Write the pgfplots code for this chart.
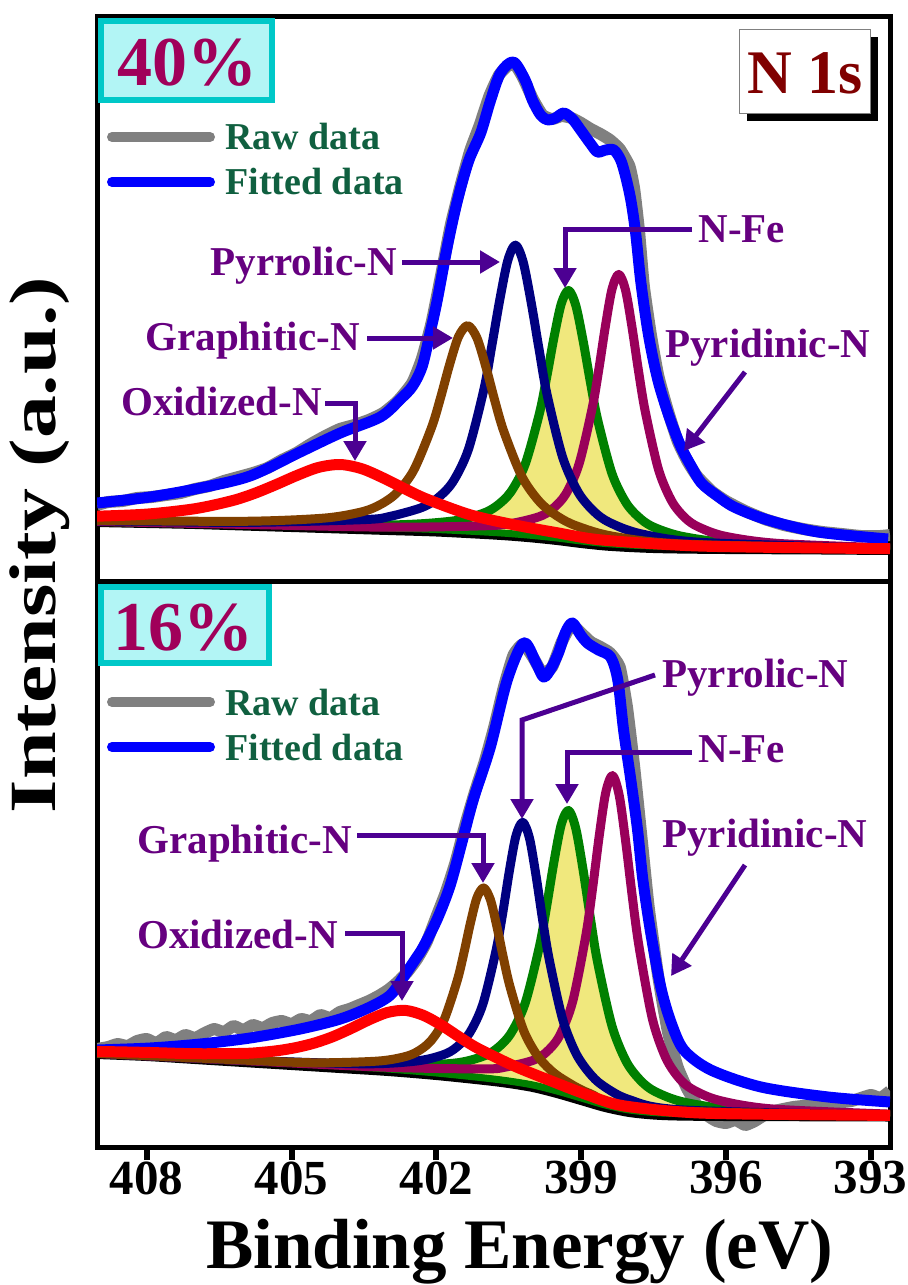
\documentclass[border=0pt]{standalone}
\usepackage{pgfplots}
\pgfplotsset{compat=1.18}
\usepackage{pgfplotstable}
\usepackage{graphicx}
\usepgfplotslibrary{fillbetween}
\usetikzlibrary{arrows.meta}
\usepackage{fontspec}
\setmainfont{Liberation Serif}

\definecolor{rawgray}{RGB}{128,128,128}
\definecolor{fitblue}{RGB}{0,0,255}
\definecolor{oxred}{RGB}{255,0,0}
\definecolor{grbrown}{RGB}{128,64,0}
\definecolor{pyrnavy}{RGB}{0,0,128}
\definecolor{fegreen}{RGB}{0,128,0}
\definecolor{pydwine}{RGB}{153,0,90}
\definecolor{fefill}{RGB}{240,232,125}
\definecolor{pctcol}{RGB}{160,0,90}
\definecolor{boxfill}{RGB}{178,245,245}
\definecolor{boxedge}{RGB}{0,200,200}
\definecolor{nscol}{RGB}{128,0,0}
\definecolor{legcol}{RGB}{16,96,64}
\definecolor{labcol}{RGB}{102,0,128}
\definecolor{arrcol}{RGB}{76,0,146}

% ---------------- 40% sample ----------------
\pgfplotstableread{
E I
409.03 76
408.8 79
408.5 80
408.2 83
407.9 84
407.6 86
407.3 88
407.0 92
406.7 95
406.4 100
406.1 104
405.8 108
405.5 113
405.2 121
404.9 128
404.6 137
404.3 145
404.0 152
403.7 156
403.4 161
403.1 168
402.8 180
402.5 198
402.3 222
402.1 258
401.9 306
401.7 356
401.5 395
401.3 430
401.1 456
400.9 485
400.7 506
400.5 516
400.35 515
400.2 503
400.0 482
399.8 466
399.6 462
399.4 465
399.2 463
399.0 458
398.8 452
398.6 447
398.4 441
398.2 432
398.0 415
397.9 392
397.8 350
397.7 295
397.55 245
397.4 205
397.2 170
397.0 140
396.8 120
396.6 105
396.3 90
396.0 80
395.6 70
395.2 62
394.8 56
394.4 52
394.0 49
393.6 47
393.2 45
392.8 45
392.6 46
}\rawTop

\pgfplotstableread{
E I
409.03 78
407.93 84
406.89 93
405.86 105
404.82 129
403.99 148
403.16 164
402.74 182
402.49 195
402.29 215
402.12 250
401.98 281
401.77 335
401.56 381
401.33 420
401.08 448
400.88 480
400.67 508
400.40 519
400.15 500
400.01 481
399.84 466
399.69 461
399.53 463
399.36 468
399.18 462
399.01 451
398.80 437
398.66 429
398.49 431
398.32 431
398.18 421
398.08 405
397.97 381
397.87 348
397.76 298
397.60 245
397.41 201
397.18 165
396.93 134
396.72 115
396.51 98
396.20 86
395.83 74
395.13 61
394.09 49
392.64 42
}\fitTop

\pgfplotstableread{
E I
409.03 59
408 58
407 57
406 55.5
405 54
404 52.5
403 51
402 49.5
401 47
400.5 45.5
400 43.5
399.5 41
399 38
398.5 35.5
398 34
397.5 33
397 32.5
396 32
394 31.5
392.6 31
}\baseTop

\pgfplotstableread{
E I
409.03 59.8
406 57.1
403 56
401.66 60
401.06 67.2
400.76 74.7
400.46 88.8
400.16 116.6
399.86 168.3
399.71 204.6
399.56 244.1
399.41 277.4
399.26 290.6
399.11 275.6
398.96 240.6
398.81 199.6
398.66 161.8
398.36 107.4
398.06 77.6
397.76 61.9
397.46 53.1
396.86 44.2
395.66 37.3
392.6 32.6
}\nfeTop

\pgfplotstableread{
E I
409.03 59.6
406 56.6
403 53.8
401 55.2
400.42 57.8
399.87 64.3
399.595 72
399.32 86.7
399.045 116.6
398.77 173
398.63 212.5
398.495 255.3
398.36 291.8
398.22 306.6
398.08 291
397.945 253.7
397.81 209.9
397.67 169.3
397.395 111.3
397.12 79.7
396.845 63.1
396.57 54.1
396.02 44.8
394.92 37.6
392.6 33.1
}\pydTop

\pgfplotstableread{
E I
409.03 60.3
406 58.6
403.5 61.4
402.96 64.6
402.31 73.3
401.985 82.4
401.66 98.9
401.335 131.6
401.01 192.5
400.85 235.2
400.685 281.2
400.52 320.3
400.36 335.9
400.2 319
400.035 278.7
399.87 231.5
399.71 187.5
399.385 124.1
399.06 88.7
398.735 69.6
398.41 58.5
397.76 47.2
396.46 38.5
392.6 32.6
}\pyrTop

\pgfplotstableread{
E I
409.03 60.6
406 59.7
404.35 62.8
403.6 68.5
403.225 74.8
402.85 86.8
402.475 110.1
402.1 153.3
401.91 183.6
401.725 216.4
401.54 244.3
401.35 255.4
401.16 243.3
400.975 214.5
400.79 180.7
400.6 149.4
400.225 104.3
399.85 78.7
399.475 64.3
399.1 55.2
398.35 44.8
396.85 36.9
392.6 32.2
}\graTop

\pgfplotstableread{
E I
409.03 64.8
408 66.9
407 72.3
406.24 80.2
405.79 87.2
405.34 96
404.89 105.5
404.44 113.6
403.99 116.5
403.54 112.2
403.09 102.8
402.64 91.9
402.19 81.8
401.29 66.1
400.39 56.2
399.49 48.2
398.59 41.1
396.79 35.4
395 33.6
392.6 32.3
}\oxiTop

% ---------------- 16% sample ----------------
\pgfplotstableread{
E I
409.03 98
408.8 100
408.6 103
408.4 101
408.2 106
408.0 108
407.8 104
407.6 110
407.4 107
407.2 112
407.0 109
406.8 114
406.6 118
406.4 115
406.2 121
406.0 117
405.8 122
405.6 119
405.4 124
405.2 126
405.0 123
404.8 128
404.6 126
404.4 132
404.2 129
404.0 135
403.8 138
403.6 142
403.4 146
403.2 151
403.0 157
402.8 165
402.6 175
402.4 188
402.2 205
402.0 230
401.8 255
401.6 285
401.4 322
401.2 355
401.0 385
400.8 420
400.6 460
400.4 492
400.2 503
400.0 490
399.8 474
399.6 480
399.4 505
399.2 522
399.0 514
398.8 505
398.6 500
398.4 494
398.2 480
398.05 440
397.9 380
397.75 310
397.6 240
397.4 170
397.2 115
397.0 80
396.8 58
396.6 42
396.4 32
396.2 26
396.0 24
395.8 27
395.6 22
395.4 26
395.2 32
395.0 36
394.6 40
394.2 42
393.8 44
393.4 46
393.0 52
392.8 49
392.6 56
}\rawBot

\pgfplotstableread{
E I
409.03 97
407.93 99
406.89 103
405.86 109
404.82 118
403.99 128
403.37 140
402.95 152
402.68 170
402.43 188
402.27 200
401.98 228
401.71 262
401.44 310
401.23 348
400.88 400
400.53 467
400.19 504
399.94 485
399.78 470
399.63 478
399.47 494
399.32 515
399.18 524
399.01 512
398.87 504
398.64 497
398.39 490
398.24 467
398.12 417
397.97 367
397.83 317
397.72 267
397.56 215
397.35 160
397.14 125
396.87 97
396.31 77
395.27 60
393.88 50
392.6 45
}\fitBot

\pgfplotstableread{
E I
409.03 93
408 91
407 88
406 85
405 82
404 79
403 76
402 72
401 67
400.5 64
400 60
399.5 54
399 47
398.5 40
398 35
397.5 32.5
397 31.5
396 31
394 30.7
392.6 30.5
}\baseBot

\pgfplotstableread{
E I
409.03 93.9
406 86.8
403 81.7
401.66 83.7
401.06 90.2
400.76 97.9
400.46 113.2
400.16 143.7
399.86 201.3
399.71 241.8
399.56 285.8
399.41 322.7
399.26 336.6
399.11 318.5
398.96 277.5
398.81 229.6
398.66 185.2
398.36 121
398.06 85.1
397.76 66.1
397.46 55.3
396.86 44.8
395.66 37.1
392.6 32.4
}\nfeBot

\pgfplotstableread{
E I
409.03 93.7
406 86.4
403 79.7
401 78.1
400.55 80.1
400 86.6
399.725 94.6
399.45 110.9
399.175 145.4
398.9 212.1
398.76 259.4
398.625 310.9
398.49 354.3
398.35 371.5
398.21 351.5
398.075 304.9
397.94 250.6
397.8 200.5
397.525 128.5
397.25 89.6
396.975 69.1
396.7 57.9
396.15 46.8
395.05 38.1
392.6 32.9
}\pydBot

\pgfplotstableread{
E I
409.03 93.8
406 86.9
403.5 83.2
402.41 86
401.86 92.2
401.585 99.6
401.31 114.1
401.035 142.9
400.76 197.1
400.62 235.1
400.485 276.4
400.35 311.1
400.21 324.7
400.07 308.9
399.935 271.7
399.8 228
399.66 187.4
399.385 128.1
399.11 94
398.835 74.4
398.56 61.8
398.01 47.5
396.91 37.1
392.6 31.6
}\pyrBot

\pgfplotstableread{
E I
409.03 93.7
406 86.9
404.5 84.2
403.22 85.9
402.67 90.1
402.395 95.3
402.12 105.7
401.845 126.5
401.57 165.9
401.43 193.6
401.295 223.6
401.16 249
401.02 259.1
400.88 247.5
400.745 220.6
400.61 189.1
400.47 159.8
400.195 116.9
399.92 92.3
399.645 77.5
399.37 67.6
398.82 53.5
397.72 37.7
392.6 31.2
}\graBot

\pgfplotstableread{
E I
409.03 95.6
408 94.6
407 93.3
406 93.6
405.64 94.6
405.265 96.5
404.89 99.6
404.515 104.1
404.14 110.4
403.765 118.5
403.39 127.3
403.015 134.5
402.64 136.6
402.265 131.6
401.89 121.7
401.515 109.8
401.14 98.7
400.39 81.1
399.64 66.4
398.89 52.5
398.14 41.4
396.64 34.2
394.5 32.4
392.6 31.6
}\oxiBot

\pgfplotsset{
  xpsaxis/.style={
    scale only axis, width=396.5pt,
    xmin=392.6, xmax=409.03, x dir=reverse,
    ymin=0,
    axis line style={line width=2.5pt},
    ytick=\empty,
    tick align=outside,
    major tick length=6.5pt,
    every tick/.style={line width=3pt, black},
    /pgf/number format/assume math mode=true,
    /pgf/number format/1000 sep={},
    xticklabel style={font=\bfseries\fontsize{24.5}{24.5}\selectfont, inner sep=0pt, yshift=-0.5pt},
  },
  rawline/.style={rawgray, line width=6pt, line join=round},
  fitline/.style={fitblue, line width=5.5pt, smooth, tension=0.5, line join=round},
  comp/.style={line width=4.5pt, smooth, tension=0.5, line join=round},
}

\begin{document}
\begin{tikzpicture}

% upper panel: 40%
\begin{axis}[xpsaxis, at={(48.5pt,-8pt)}, anchor=north west,
  height=282.5pt, ymax=565, xtick=\empty]
  \addplot[draw=none, name path=bT, smooth] table {\baseTop};
  \addplot[draw=none, name path=nT, smooth, tension=0.5] table {\nfeTop};
  \addplot[fefill] fill between[of=nT and bT];
  \addplot[rawline, smooth, tension=0.3] table {\rawTop};
  \addplot[black, line width=5pt, smooth] table {\baseTop};
  \addplot[fegreen, line width=3.5pt, smooth, yshift=1pt] table {\baseTop};
  \addplot[comp, fegreen] table {\nfeTop};
  \addplot[comp, pydwine] table {\pydTop};
  \addplot[comp, pyrnavy] table {\pyrTop};
  \addplot[comp, grbrown] table {\graTop};
  \addplot[fitline] table {\fitTop};
  \addplot[comp, oxred, line width=5.5pt] table {\oxiTop};
\end{axis}

% lower panel: 16%
\begin{axis}[xpsaxis, at={(48.5pt,-290.5pt)}, anchor=north west,
  height=283pt, ymax=566,
  xtick={393,396,...,408}, xtick pos=lower,
  xlabel={\fontsize{35.5}{35.5}\selectfont\bfseries Binding Energy (eV)},
  xlabel style={at={(axis description cs:0.533,0)}, anchor=base, yshift=-60.5pt, inner sep=0pt},
]
  \addplot[draw=none, name path=bB, smooth] table {\baseBot};
  \addplot[draw=none, name path=nB, smooth, tension=0.5] table {\nfeBot};
  \addplot[fefill] fill between[of=nB and bB];
  \addplot[rawline, smooth, tension=0.3] table {\rawBot};
  \addplot[black, line width=5pt, smooth] table {\baseBot};
  \addplot[fegreen, line width=3.5pt, smooth, yshift=1pt] table {\baseBot};
  \addplot[comp, fegreen] table {\nfeBot};
  \addplot[comp, pydwine] table {\pydBot};
  \addplot[comp, pyrnavy] table {\pyrBot};
  \addplot[comp, grbrown] table {\graBot};
  \addplot[fitline] table {\fitBot};
  \addplot[comp, oxred, line width=5.5pt] table {\oxiBot};
\end{axis}

% annotations, legend and boxes (pixel grid: 0.5pt per unit, y downwards)
\begin{scope}[x=0.5pt, y=-0.5pt]
  % common y-axis title for both panels
  \node[rotate=90, anchor=base, inner sep=0pt] at (55,545)
    {\fontsize{33}{33}\selectfont\bfseries\scalebox{1.3}[1]{Intensity (a.u.)}};

  % sample boxes
  \draw[boxedge, fill=boxfill, line width=3pt] (101,21) rectangle (272,100);
  \node[anchor=base west, inner sep=0pt, text=pctcol] at (117,85)
    {\fontsize{35}{35}\selectfont\bfseries 40\%};
  \draw[boxedge, fill=boxfill, line width=3pt] (101,587) rectangle (269,663);
  \node[anchor=base west, inner sep=0pt, text=pctcol] at (113,650)
    {\fontsize{35}{35}\selectfont\bfseries 16\%};
  % N 1s tag with drop shadow
  \fill[black] (747,37) rectangle (878,121);
  \draw[gray, fill=white, line width=0.5pt] (739,29) rectangle (870,113);
  \node[anchor=base west, inner sep=0pt, text=nscol] at (747,93)
    {\fontsize{31}{31}\selectfont\bfseries N 1s};

  % legends
  \foreach \yr/\yf in {137/182, 702/747}{
    \draw[rawgray, line width=5pt, line cap=round] (112,\yr) -- (210,\yr);
    \draw[fitblue, line width=5pt, line cap=round] (112,\yf) -- (210,\yf);
  }
  \begin{scope}[every node/.style={anchor=base west, inner sep=0pt, text=legcol, font=\fontsize{19}{19}\selectfont\bfseries}]
    \node at (225,149) {Raw data};
    \node at (225,194) {Fitted data};
    \node at (225,715) {Raw data};
    \node at (225,760) {Fitted data};
  \end{scope}

  % peak labels
  \begin{scope}[every node/.style={inner sep=0pt, text=labcol, font=\fontsize{20.5}{20.5}\selectfont\bfseries},
                arr/.style={arrcol, line width=2.5pt, -{Triangle[length=10pt, width=11pt]}}]
    % upper panel
    \node[anchor=base east] at (397,275) {Pyrrolic-N};
    \draw[arr] (402,262) -- (500,262);
    \node[anchor=base west] at (698,242) {N-Fe};
    \draw[arr] (692,229) -- (565,229) -- (565,288);
    \node[anchor=base east] at (360,350) {Graphitic-N};
    \draw[arr] (367,338) -- (453,338);
    \node[anchor=base east] at (322,415) {Oxidized-N};
    \draw[arr] (325,403) -- (355,403) -- (355,461);
    \node[anchor=base west] at (665,357) {Pyridinic-N};
    \draw[arr] (745,372) -- (684,451);
    % lower panel
    \node[anchor=base west] at (662,687) {Pyrrolic-N};
    \draw[arr] (655,675) -- (522,720) -- (522,819);
    \node[anchor=base west] at (698,762) {N-Fe};
    \draw[arr] (692,752) -- (567,752) -- (567,804);
    \node[anchor=base west] at (662,847) {Pyridinic-N};
    \draw[arr] (745,865) -- (671,976);
    \node[anchor=base east] at (352,853) {Graphitic-N};
    \draw[arr] (357,835) -- (483,835) -- (483,883);
    \node[anchor=base east] at (338,948) {Oxidized-N};
    \draw[arr] (345,933) -- (402,933) -- (402,1001);
  \end{scope}
\end{scope}

% page frame
\pgfresetboundingbox
\useasboundingbox (0,0) rectangle (454pt,-642.5pt);
\end{tikzpicture}
\end{document}
